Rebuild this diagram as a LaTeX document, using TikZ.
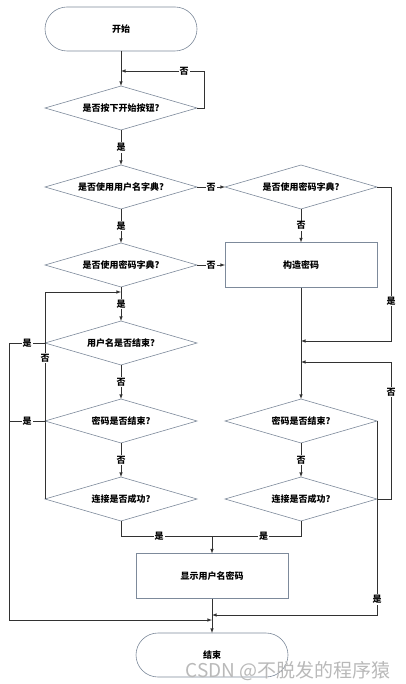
\documentclass[tikz,border=0pt]{standalone}
\usepackage{fontspec}
\setmainfont{Noto Sans CJK SC}
\usetikzlibrary{shapes.geometric}
\definecolor{edge}{RGB}{125,138,155}
\definecolor{wire}{RGB}{50,50,50}
\begin{document}
\begin{tikzpicture}[x=1pt,y=-1pt,
		font=\fontsize{9}{11}\selectfont\bfseries,
		judge/.style={diamond, draw=edge, fill=white, line width=0.6pt, aspect=3.4,
			minimum width=152pt, minimum height=44pt, inner sep=0pt, outer sep=0pt},
		act/.style={rectangle, draw=edge, fill=white, line width=0.6pt,
			minimum width=152pt, minimum height=45pt, outer sep=0pt},
		term/.style={rectangle, rounded corners=22pt, draw=edge, fill=white, line width=0.6pt,
			minimum width=152pt, minimum height=44pt, outer sep=0pt},
		wireline/.style={draw=wire, line width=0.6pt},
		arr/.style={wireline, -latex},
		lbl/.style={fill=white, inner sep=1pt}]
	\useasboundingbox (0,0) rectangle (406,684);
	% shapes
	\node[term] (start) at (121,29) {开始};
	\node[judge] (press) at (121,108) {是否按下开始按钮?};
	\node[judge] (userdict) at (121,187) {是否使用用户名字典?};
	\node[judge] (pwddictA) at (301,187) {是否使用密码字典?};
	\node[judge] (pwddictB) at (121,265) {是否使用密码字典?};
	\node[act] (makepwd) at (301,265) {构造密码};
	\node[judge] (userend) at (121,343) {用户名是否结束?};
	\node[judge] (pwdendA) at (121,421) {密码是否结束?};
	\node[judge] (connA) at (121,499) {连接是否成功?};
	\node[judge] (pwdendB) at (301,421) {密码是否结束?};
	\node[judge] (connB) at (301,499) {连接是否成功?};
	\node[act] (show) at (212,576) {显示用户名密码};
	\node[term] (stop) at (212,655) {结束};
	% joints
	\coordinate (loopin) at (121,71);
	\coordinate (loopR) at (204,0);
	\coordinate (backL) at (121,292);
	\coordinate (merge) at (212,536);
	\coordinate (inR1) at (301,341);
	\coordinate (inR2) at (301,362);
	\coordinate (farR) at (391,0);
	\coordinate (inE1) at (212,615);
	\coordinate (inE2) at (212,620);
	\coordinate (farL) at (9,620);
	% left column
	\draw[arr] (start.south) -- (press.north);
	\draw[arr] (press.east) -- (press.east -| loopR) |- node[lbl, pos=0.62]{否} (loopin);
	\draw[arr] (press.south) -- node[lbl]{是} (userdict.north);
	\draw[arr] (userdict.east) -- node[lbl]{否} (pwddictA.west);
	\draw[arr] (userdict.south) -- node[lbl]{是} (pwddictB.north);
	\draw[arr] (pwddictB.east) -- node[lbl]{否} (makepwd.west);
	\draw[arr] (pwddictB.south) -- node[lbl]{是} (userend.north);
	\draw[arr] (userend.south) -- node[lbl]{否} (pwdendA.north);
	\draw[arr] (pwdendA.south) -- node[lbl]{否} (connA.north);
	\draw[arr] (connA.west) |- node[lbl, pos=0.34]{否} (backL);
	\draw[arr] (userend.west) -| node[lbl, pos=0.25]{是} (farL) -- (inE2);
	\draw[wireline] (pwdendA.west) -- node[lbl]{是} (pwdendA.west -| farL);
	% right column
	\draw[arr] (pwddictA.south) -- node[lbl]{否} (makepwd.north);
	\draw[arr] (pwddictA.east) -| node[lbl, pos=0.87]{是} (inR1 -| farR) -- (inR1);
	\draw[arr] (makepwd.south) -- (pwdendB.north);
	\draw[arr] (pwdendB.south) -- node[lbl]{否} (connB.north);
	\draw[arr] (connB.east) -| node[lbl, pos=0.89]{否} (inR2 -| farR) -- (inR2);
	\draw[arr] (pwdendB.east) |- node[lbl, pos=0.46]{是} (inE1);
	% bottom
	\draw[wireline] (connA.south) |- node[lbl, pos=0.71]{是} (merge);
	\draw[wireline] (connB.south) |- node[lbl, pos=0.71]{是} (merge);
	\draw[arr] (merge) -- (show.north);
	\draw[arr] (show.south) -- (stop.north);
	\node[text=gray!55, inner sep=0pt, font=\fontsize{19}{19}\selectfont\mdseries] (mark) at (288,671) {CSDN @不脱发的程序猿};
\end{tikzpicture}
\end{document}
